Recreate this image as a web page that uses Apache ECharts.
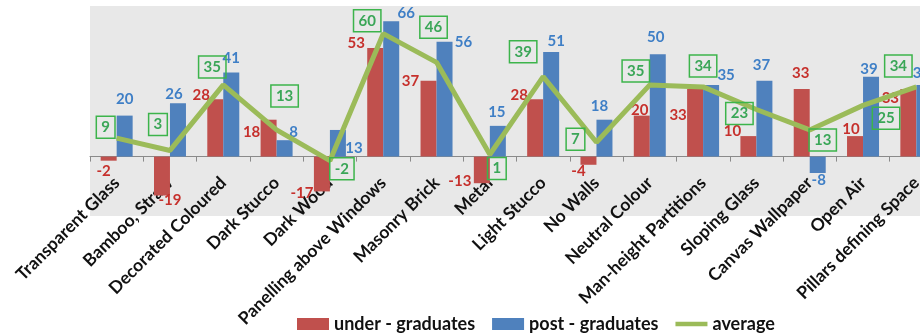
<!DOCTYPE html>
<html>
<head>
<meta charset="utf-8">
<script src="https://cdn.jsdelivr.net/npm/echarts@6/dist/echarts.min.js"></script>
<style>
  html, body { margin: 0; padding: 0; background: #ffffff; }
  #chart { width: 920px; height: 334px; }
</style>
</head>
<body>
<div id="chart"></div>
<script>
// Preference scores per design element
const categories = [
  'Transparent Glass', 'Bamboo, Straw', 'Decorated Coloured', 'Dark Stucco',
  'Dark Wood', 'Panelling above Windows', 'Masonry Brick', 'Metal',
  'Light Stucco', 'No Walls', 'Neutral Colour', 'Man-height Partitions',
  'Sloping Glass', 'Canvas Wallpaper', 'Open Air', 'Pillars defining Space'
];
const underGraduates = [-2, -19, 28, 18, -17, 53, 37, -13, 28, -4, 20, 33, 10, 33, 10, 33];
const postGraduates  = [20, 26, 41, 8, 13, 66, 56, 15, 51, 18, 50, 35, 37, -8, 39, 35];
const average        = [9, 3, 35, 13, -2, 60, 46, 1, 39, 7, 35, 34, 23, 13, 25, 34];

// Label nudges (px) so the value labels sit clear of the marks
const underOffsets = [[-5,1],[8,-5],[-14,5],[-17,22],[-20,-8],[-19,5],[-18,10],[-22,-12],
                      [-16,5],[-10,-3],[-2,4],[-17,36],[-16,5],[-1,-6],[-4,3],[-18,19]];
const postOffsets  = [[0,-7],[-4,0],[0,-5],[9,1],[16,28],[15,1],[19,10],[-1,-4],
                      [5,-1],[-5,-4],[-2,-7],[15,0],[-3,-6],[1,-2],[-2,2],[-3,-2]];
const avgOffsets   = [[-11,-11],[-12,-26],[-11,-18],[8,-34],[12,8],[-16,-13],[-3,-35],[7,14],
                      [-20,-25],[-21,-3],[-14,-14],[0,-21],[-17,4],[13,10],[23,13],[-18,-21]];

const RED = '#c0504d', BLUE = '#4f81bd', GREEN = '#9bbb59';
const FONT = 'Lato';

function barData(values, offsets) {
  return values.map((v, i) => ({
    value: v,
    label: { position: v < 0 ? 'bottom' : 'top', offset: offsets[i] }
  }));
}

const chart = echarts.init(document.getElementById('chart'), null, { renderer: 'canvas' });
chart.setOption({
  animation: false,
  backgroundColor: '#ffffff',
  textStyle: { fontFamily: FONT },
  grid: {
    show: true, backgroundColor: '#e8e8e8', borderWidth: 0,
    left: 90, top: 6, width: 853, height: 210,
    containLabel: false, outerBoundsMode: 'none'
  },
  legend: {
    left: 292, top: 310,
    itemWidth: 32, itemHeight: 12, itemGap: 17,
    textStyle: { fontFamily: FONT, fontWeight: 'bold', fontSize: 18, color: '#111' },
    data: [
      { name: 'under - graduates', icon: 'rect' },
      { name: 'post - graduates', icon: 'rect' },
      { name: 'average', icon: 'path://M0,0 L36,0 L36,5 L0,5 Z' }
    ]
  },
  xAxis: {
    type: 'category',
    data: categories,
    axisLine: { onZero: true, lineStyle: { color: '#8a8a8a', width: 1 } },
    axisTick: { show: true, length: 5, interval: 0, lineStyle: { color: '#8a8a8a' } },
    axisLabel: {
      interval: 0, rotate: 45, margin: -36,
      fontFamily: FONT, fontWeight: 'bold', fontSize: 17.5, color: '#111'
    },
    splitLine: { show: false }
  },
  yAxis: {
    type: 'value', min: -29, max: 73.5, show: false,
    splitLine: { show: false }
  },
  series: [
    {
      name: 'under - graduates', type: 'bar',
      data: barData(underGraduates, underOffsets),
      itemStyle: { color: RED },
      barGap: '0%', barCategoryGap: '40%',
      label: { show: true, distance: 2, fontFamily: FONT, fontWeight: 'bold', fontSize: 15, color: '#c6302c' }
    },
    {
      name: 'post - graduates', type: 'bar',
      data: barData(postGraduates, postOffsets),
      itemStyle: { color: BLUE },
      barGap: '0%', barCategoryGap: '40%',
      label: { show: true, distance: 2, fontFamily: FONT, fontWeight: 'bold', fontSize: 15, color: '#3f7fc6' }
    },
    {
      name: 'average', type: 'line',
      data: average.map((v, i) => ({ value: v, label: { offset: avgOffsets[i] } })),
      z: 5,
      symbol: 'circle', symbolSize: 1, showSymbol: true,
      lineStyle: { color: GREEN, width: 5 },
      itemStyle: { color: GREEN },
      label: {
        show: true, position: 'inside',
        fontFamily: FONT, fontWeight: 'bold', fontSize: 15, color: '#3aa657',
        borderColor: '#3cb44b', borderWidth: 1.5, padding: [4, 5, 3, 5]
      }
    }
  ]
});
</script>
</body>
</html>
